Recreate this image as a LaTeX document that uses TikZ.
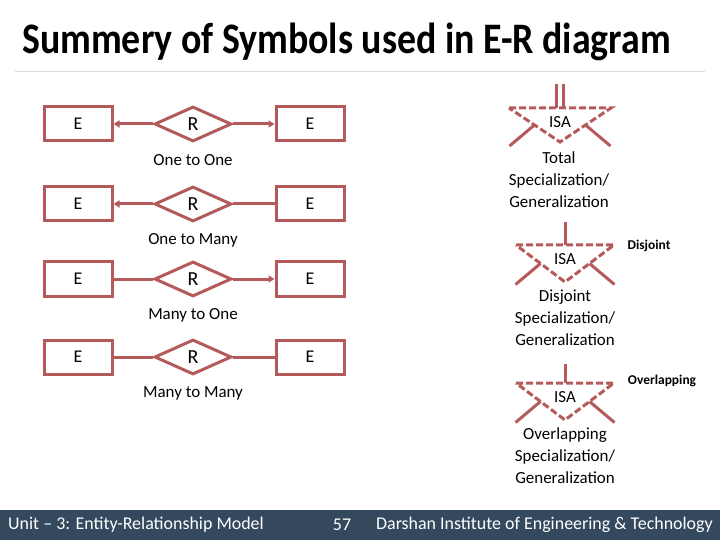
\documentclass[tikz,border=0pt]{standalone}
\usepackage{fontspec}
\setmainfont{Carlito}
\usetikzlibrary{positioning,calc,shapes.geometric,arrows.meta}
\definecolor{erline}{HTML}{B55A5A}
\definecolor{footbg}{HTML}{34495E}
\definecolor{rulegray}{HTML}{D9D9D9}
\definecolor{ink}{HTML}{000000}
\tikzset{
  ent/.style     = {draw=erline, line width=3bp, minimum width=68bp, minimum height=34bp, inner sep=0pt, font=\fontsize{18}{20}\selectfont\color{ink}},
  rel/.style     = {diamond, aspect=2.1, draw=erline, line width=3bp, minimum width=77bp, minimum height=35bp, inner sep=0pt, font=\fontsize{20}{22}\selectfont\color{ink}},
  link/.style    = {draw=erline, line width=3bp},
  one/.style     = {link, -{Triangle[length=6bp,width=7bp]}},
  many/.style    = {link},
  lab/.style     = {font=\fontsize{17}{22}\selectfont\color{ink}, inner sep=0pt, align=center},
  isaedge/.style = {draw=erline, line width=3bp, dash pattern=on 7bp off 3bp},
  isaleg/.style  = {draw=erline, line width=3bp},
  note/.style    = {font=\fontsize{13.5}{15}\selectfont\bfseries\color{ink}, inner sep=0pt},
  foot/.style    = {font=\fontsize{18}{20}\selectfont\color{white}, inner sep=0pt},
}

\begin{document}
\begin{tikzpicture}[x=1bp,y=-1bp]
\path[use as bounding box] (0,0) rectangle (720,540);

\node[anchor=base west, inner sep=0pt, font=\fontsize{38}{42}\selectfont\bfseries] (title) at (22,54)
  {\scalebox{1}[1.15]{Summery of Symbols used in E-R diagram}};
\draw[rulegray, line width=1bp] (15,72) -- (705,72);

% ---- relationships: E -- R -- E -----------------------------------------
\foreach \i/\y/\l/\r/\txt in {%
  1/124/one/one/{One to One},
  2/204/one/many/{One to Many},
  3/279/many/one/{Many to One},
  4/357/many/many/{Many to Many}} {
  \node[ent] (el\i) at (78,\y)  {E};
  \node[rel] (r\i)  at (193,\y) {R};
  \node[ent] (er\i) at (310,\y) {E};
  \draw[\l] (r\i) -- (el\i);
  \draw[\r] (r\i) -- (er\i);
  \node[lab] (card\i) at (193,\y+36) {\txt};
}

% ---- ISA triangles -------------------------------------------------------
\foreach \n/\cx/\ty/\w/\d in {1/560/108/51/34, 2/565/245/49/37, 3/565/383/49/37} {
  \coordinate (tl\n) at (\cx-\w,\ty);
  \coordinate (tr\n) at (\cx+\w,\ty);
  \coordinate (ap\n) at (\cx,\ty+\d);
  \draw[isaedge] (tl\n) -- (tr\n) -- (ap\n) -- cycle;
  \draw[isaleg] ($(tl\n)!0.5!(ap\n)$) -- ++(-25,21);
  \draw[isaleg] ($(tr\n)!0.5!(ap\n)$) -- ++(25,21);
  \node[lab] (isa\n) at (\cx,\ty+14) {ISA};
}

% superclass links
\draw[isaleg, line width=2.5bp] (556.5,84) -- (556.5,108);
\draw[isaleg, line width=2.5bp] (563.5,84) -- (563.5,108);
\draw[isaleg] (565,222) -- (565,245);
\draw[isaleg] (565,364) -- (565,383);

\node[lab] (total)   at (559,180) {Total\\Specialization/\\Generalization};
\node[lab] (disj)    at (565,318) {Disjoint\\Specialization/\\Generalization};
\node[lab] (overl)   at (565,456) {Overlapping\\Specialization/\\Generalization};
\node[note] (dnote)  at (649,246) {Disjoint};
\node[note] (onote)  at (662,381) {Overlapping};

% ---- footer ---------------------------------------------------------------
\fill[footbg] (0,510) rectangle (720,540);
\node[foot, anchor=west] (unit) at (8,525)   {Unit – 3: Entity-Relationship Model};
\node[foot]              (page) at (342,525) {57};
\node[foot, anchor=east] (inst) at (713,525) {Darshan Institute of Engineering \& Technology};

\end{tikzpicture}
\end{document}
